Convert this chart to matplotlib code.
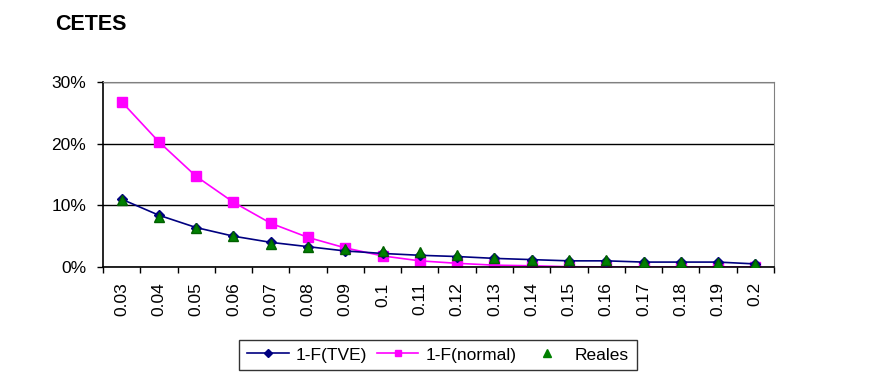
import matplotlib
matplotlib.use("Agg")
import matplotlib.pyplot as plt
import numpy as np
from matplotlib.ticker import FuncFormatter
from matplotlib.lines import Line2D

categories = ["0.03", "0.04", "0.05", "0.06", "0.07", "0.08", "0.09", "0.1", "0.11",
              "0.12", "0.13", "0.14", "0.15", "0.16", "0.17", "0.18", "0.19", "0.2"]
tve = [11.0, 8.4, 6.4, 5.0, 4.0, 3.3, 2.6, 2.2, 1.9, 1.7, 1.4, 1.2, 1.0, 1.0, 0.8, 0.8, 0.8, 0.5]
normal = [26.8, 20.3, 14.7, 10.5, 7.1, 4.8, 3.1, 1.8, 1.0, 0.6, 0.3, 0.2, 0.05, 0.02, 0.01, 0.0, 0.0, 0.0]
reales = [10.9, 8.1, 6.4, 5.0, 3.8, 3.3, 3.0, 2.6, 2.4, 1.9, 1.5, 1.2, 1.1, 1.1, 0.8, 0.8, 0.6, 0.5]

plt.rcParams['font.family'] = ['Liberation Sans', 'DejaVu Sans']

fig = plt.figure(figsize=(8.74, 3.91), dpi=100)
ax = fig.add_axes([0.1178, 0.3171, 0.7678, 0.4732])

x = np.arange(len(categories))
ax.plot(x, tve, color='#000080', lw=1.2, marker='D', ms=5.5, mfc='#000080', mec='#000080', zorder=3)
ax.plot(x, normal, color='#FF00FF', lw=1.2, marker='s', ms=6.5, mfc='#FF00FF', mec='#FF00FF', zorder=2)
ax.plot(x, reales, ls='none', marker='^', ms=7.5, mfc='#008000', mec='#006000', zorder=4)

ax.set_xlim(-0.5, len(categories) - 0.5)
ax.set_ylim(0, 30)
ax.set_yticks([0, 10, 20, 30])
ax.yaxis.set_major_formatter(FuncFormatter(lambda v, p: f"{int(v)}%"))
ax.grid(axis='y', color='black', lw=1)
ax.set_axisbelow(True)

ax.set_xticks(x)
ax.set_xticklabels(categories, rotation=90, fontsize=12.5)
ax.set_xticks(np.arange(-0.5, len(categories), 1), minor=True)
ax.tick_params(axis='x', which='major', length=0, pad=11)
ax.tick_params(axis='x', which='minor', length=4, width=1, direction='out', color='black')
ax.tick_params(axis='y', length=4, width=1, direction='out', labelsize=12.5, pad=8)

for s in ['top', 'right']:
    ax.spines[s].set_color('#808080')
for s in ['left', 'bottom']:
    ax.spines[s].set_color('black')
    ax.spines[s].set_linewidth(1.2)

fig.text(55 / 874, 1 - 25 / 391, "CETES", fontsize=15.5, fontweight='bold', va='center', ha='left')

h1 = Line2D([], [], color='#000080', lw=1.2, marker='D', ms=4.5, mfc='#000080', mec='#000080', label='1-F(TVE)')
h2 = Line2D([], [], color='#FF00FF', lw=1.2, marker='s', ms=5, mfc='#FF00FF', mec='#FF00FF', label='1-F(normal)')
h3 = Line2D([], [], ls='none', marker='^', ms=5.5, mfc='#008000', mec='#008000', label='Reales')
leg = fig.legend(handles=[h1, h2, h3], loc='center', bbox_to_anchor=(438 / 874, 1 - 355 / 391),
                 ncol=3, frameon=True, fancybox=False, edgecolor='black', fontsize=12.5,
                 handlelength=2.4, columnspacing=0.55, handletextpad=0.4, borderpad=0.45)
leg.get_frame().set_linewidth(1)

fig.savefig("out.png", dpi=100)
